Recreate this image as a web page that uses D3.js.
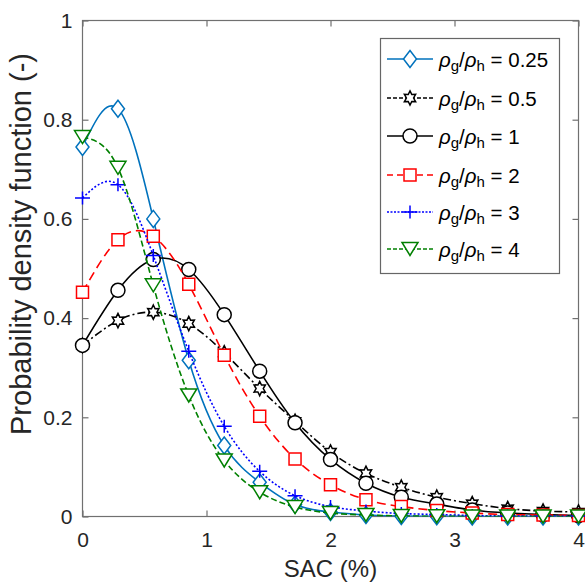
<!DOCTYPE html>
<html>
<head>
<meta charset="utf-8">
<script src="https://cdn.jsdelivr.net/npm/d3@7"></script>
<style>
  body { margin: 0; background: #fff; }
  svg { display: block; font-family: "Liberation Sans", Arial, sans-serif; }
</style>
</head>
<body>
<svg id="chart" width="585" height="584"></svg>
<script>
// values
const sac = [0, 0.286, 0.571, 0.857, 1.143, 1.429, 1.714, 2.0, 2.286, 2.571, 2.857, 3.143, 3.429, 3.714, 4.0];
const ratioLabels = ['0.25', '0.5', '1', '2', '3', '4'];
const pdf025 = [0.745, 0.822, 0.600, 0.315, 0.143, 0.069, 0.024, 0.009, 0.003, 0.001, 0.0005, 0, 0, 0, 0];
const pdf05 = [0.345, 0.395, 0.412, 0.389, 0.330, 0.258, 0.192, 0.130, 0.087, 0.059, 0.039, 0.026, 0.016, 0.011, 0.009];
const pdf1 = [0.345, 0.456, 0.518, 0.498, 0.407, 0.293, 0.189, 0.115, 0.067, 0.039, 0.025, 0.013, 0.007, 0.004, 0.002];
const pdf2 = [0.452, 0.558, 0.565, 0.468, 0.325, 0.202, 0.116, 0.064, 0.034, 0.020, 0.012, 0.007, 0.004, 0.003, 0.002];
const pdf3 = [0.642, 0.669, 0.526, 0.333, 0.182, 0.091, 0.042, 0.020, 0.011, 0.006, 0.004, 0.002, 0.001, 0.001, 0.001];
const pdf4 = [0.765, 0.703, 0.466, 0.244, 0.113, 0.049, 0.019, 0.007, 0.003, 0.001, 0.0005, 0, 0, 0, 0];
const xTicks = [0, 1, 2, 3, 4];
const yTicks = [0, 0.2, 0.4, 0.6, 0.8, 1];

// line / marker styles, same order as the legend
const styles = [
  { color: '#0072BD', dash: null, marker: 'diamond', legendDash: null },
  { color: '#000000', dash: '8,3,2,3', marker: 'hexagram', legendDash: '4,2' },
  { color: '#000000', dash: null, marker: 'circle', legendDash: null },
  { color: '#FF0000', dash: '9,5', marker: 'square', legendDash: '6,4' },
  { color: '#0000FF', dash: '2,2', marker: 'plus', legendDash: '2,1.5' },
  { color: '#008000', dash: '6,3', marker: 'triangle', legendDash: '4,2' }
];
const values = [pdf025, pdf05, pdf1, pdf2, pdf3, pdf4];

const series = values.map((v, i) => ({
  label: ratioLabels[i],
  points: sac.map((s, j) => ({ x: s, y: v[j] })),
  ...styles[i]
}));

const svg = d3.select('#chart');
const plotLeft = 82.5, plotRight = 578.5, plotTop = 20.5, plotBottom = 516.5;

const x = d3.scaleLinear().domain([0, 4]).range([plotLeft, plotRight]);
const y = d3.scaleLinear().domain([0, 1]).range([plotBottom, plotTop]);

// marker shapes centred on 0,0
function markerPath(type) {
  switch (type) {
    case 'diamond': return 'M0,-8.5L6.5,0L0,8.5L-6.5,0Z';
    case 'circle': return 'M7,0A7,7 0 1,1 -7,0A7,7 0 1,1 7,0Z';
    case 'square': return 'M-6,-6H6V6H-6Z';
    case 'plus': return 'M-7.5,0H7.5M0,-6.5V6.5';
    case 'triangle': return 'M-8,-6.5H8L0,6.5Z';
    case 'hexagram': {
      const pts = d3.range(12).map(k => {
        const a = -Math.PI / 2 + k * Math.PI / 6;
        const r = k % 2 ? 3.6 : 6.5;
        return [r * Math.cos(a), r * Math.sin(a) * 1.1];
      });
      return 'M' + pts.map(p => p.join(',')).join('L') + 'Z';
    }
  }
}

svg.append('defs').append('clipPath').attr('id', 'plotClip')
  .append('rect')
  .attr('x', plotLeft).attr('y', plotTop)
  .attr('width', plotRight - plotLeft).attr('height', plotBottom - plotTop);

// axes with inward ticks
const axisColor = '#707070';
const tickText = '#262626';

function styleAxis(g) {
  g.select('.domain').remove();
  g.selectAll('.tick line').attr('stroke', axisColor).attr('stroke-width', 1.2);
  g.selectAll('.tick text').attr('fill', tickText).attr('font-size', 21)
    .attr('font-family', '"Liberation Sans", Arial, sans-serif');
}

svg.append('g')
  .attr('transform', `translate(${plotLeft},0)`)
  .call(d3.axisLeft(y).tickValues(yTicks).tickSize(-6).tickPadding(10).tickFormat(d => String(d)))
  .call(styleAxis);

svg.append('g')
  .attr('transform', `translate(${plotRight},0)`)
  .call(d3.axisRight(y).tickValues(yTicks).tickSize(-6).tickFormat(''))
  .call(styleAxis);

svg.append('g')
  .attr('transform', `translate(0,${plotBottom})`)
  .call(d3.axisBottom(x).tickValues(xTicks).tickSize(-6).tickPadding(16).tickFormat(d => String(d)))
  .call(styleAxis);

svg.append('g')
  .attr('transform', `translate(0,${plotTop})`)
  .call(d3.axisTop(x).tickValues(xTicks).tickSize(-6).tickFormat(''))
  .call(styleAxis);

// box
svg.append('rect')
  .attr('x', plotLeft).attr('y', plotTop)
  .attr('width', plotRight - plotLeft).attr('height', plotBottom - plotTop)
  .attr('fill', 'none')
  .attr('stroke', axisColor)
  .attr('stroke-width', 1.2);

// smooth curves through the points, each series drawn line then markers
const line = d3.line()
  .x(d => x(d.x))
  .y(d => y(d.y))
  .curve(d3.curveNatural);

series.forEach(s => {
  const g = svg.append('g');
  g.append('path')
    .attr('clip-path', 'url(#plotClip)')
    .attr('d', line(s.points))
    .attr('fill', 'none')
    .attr('stroke', s.color)
    .attr('stroke-width', 1.6)
    .attr('stroke-dasharray', s.dash);

  g.selectAll(null)
    .data(s.points)
    .enter().append('path')
    .attr('transform', d => `translate(${x(d.x)},${y(d.y)})`)
    .attr('d', markerPath(s.marker))
    .attr('fill', '#fff')
    .attr('stroke', s.color)
    .attr('stroke-width', 1.5);
});

// axis labels
svg.append('text')
  .attr('x', (plotLeft + plotRight) / 2)
  .attr('y', 577)
  .attr('text-anchor', 'middle')
  .attr('font-size', 24)
  .attr('fill', tickText)
  .text('SAC (%)');

svg.append('text')
  .attr('transform', 'translate(31,244) rotate(-90)')
  .attr('text-anchor', 'middle')
  .attr('font-size', 29)
  .attr('fill', tickText)
  .text('Probability density function (-)');

// legend
const legend = svg.append('g');
legend.append('rect')
  .attr('x', 380.5).attr('y', 38.5)
  .attr('width', 179).attr('height', 235)
  .attr('fill', '#fff')
  .attr('stroke', '#666')
  .attr('stroke-width', 1.2);

const rowY = [59, 98, 136, 175, 212, 249];

series.forEach((s, i) => {
  const row = legend.append('g').attr('transform', `translate(0,${rowY[i]})`);
  row.append('line')
    .attr('x1', 387).attr('x2', 433)
    .attr('stroke', s.color)
    .attr('stroke-width', 1.6)
    .attr('stroke-dasharray', s.legendDash);
  row.append('path')
    .attr('transform', 'translate(410,0)')
    .attr('d', markerPath(s.marker))
    .attr('fill', '#fff')
    .attr('stroke', s.color)
    .attr('stroke-width', 1.5);

  const t = row.append('text')
    .attr('x', 439).attr('y', 8)
    .attr('font-size', 20.5)
    .attr('fill', '#000');
  t.append('tspan').attr('font-style', 'italic').text('\u03C1');
  t.append('tspan').attr('font-size', 15).attr('dy', 4).text('g');
  t.append('tspan').attr('dy', -4).text('/');
  t.append('tspan').attr('font-style', 'italic').text('\u03C1');
  t.append('tspan').attr('font-size', 15).attr('dy', 4).text('h');
  t.append('tspan').attr('dy', -4).text(' = ' + s.label);
});
</script>
</body>
</html>
